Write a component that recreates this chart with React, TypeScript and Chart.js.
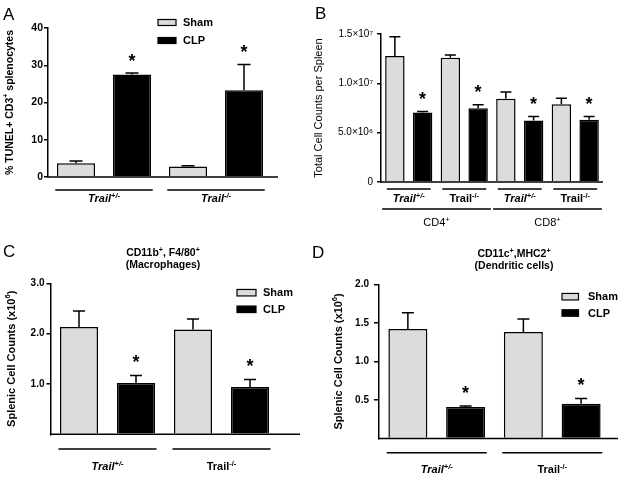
import React, { useEffect, useRef } from 'react';
import { Chart, registerables } from 'chart.js';

Chart.register(...registerables);

const FONT = "'Liberation Sans', Arial, Helvetica, sans-serif";
const SHAM_FILL = '#dcdcdc';
const CLP_FILL = '#000000';

// ---------------- data ----------------
const seriesNames = ['Sham', 'CLP'];
const genotypes = ['Trail+/-', 'Trail-/-'];

// Panel A: % TUNEL+ CD3+ splenocytes
const tunelSham = [3.7, 2.8];
const tunelShamSem = [0.6, 0.25];
const tunelClp = [27.5, 23.3];
const tunelClpSem = [0.4, 6.9];
const tunelStars = [true, true];
const tunelTickLabels = ['0', '10', '20', '30', '40'];

// Panel B: total cell counts per spleen
const countCategories = ['CD4+ Trail+/-', 'CD4+ Trail-/-', 'CD8+ Trail+/-', 'CD8+ Trail-/-'];
const countGenotypes = ['Trail+/-', 'Trail-/-', 'Trail+/-', 'Trail-/-'];
const countCellTypes = ['CD4', 'CD8'];
const countSham = [1.277e7, 1.26e7, 0.845e7, 0.789e7];
const countShamSem = [0.195e7, 0.027e7, 0.068e7, 0.06e7];
const countClp = [0.704e7, 0.748e7, 0.623e7, 0.63e7];
const countClpSem = [0.01e7, 0.034e7, 0.04e7, 0.033e7];
const countStars = [true, true, true, true];
const countTickLabels = ['0', '5.0×10⁶', '1.0×10⁷', '1.5×10⁷'];

// Panel C: macrophages (x10^6)
const macroSham = [2.13, 2.08];
const macroShamSem = [0.32, 0.21];
const macroClp = [1.02, 0.94];
const macroClpSem = [0.15, 0.15];
const macroStars = [true, true];
const macroTickLabels = ['', '1.0', '2.0', '3.0'];

// Panel D: dendritic cells (x10^6)
const dcSham = [1.42, 1.38];
const dcShamSem = [0.21, 0.17];
const dcClp = [0.41, 0.45];
const dcClpSem = [0.01, 0.07];
const dcStars = [true, true];
const dcTickLabels = ['', '0.5', '1.0', '1.5', '2.0'];

// ---------------- helpers ----------------
type Seg = { t: string; sup?: boolean };

function trailSegs(label: string): Seg[] {
  const base = label.slice(0, 5);
  const sup = label.slice(5);
  return [{ t: base }, { t: sup, sup: true }];
}

function drawRich(
  ctx: CanvasRenderingContext2D,
  segs: Seg[],
  x: number,
  y: number,
  o: { size: number; weight?: string; italic?: boolean; align?: 'left' | 'center' | 'right'; baseline?: CanvasTextBaseline }
) {
  const fontFor = (sup?: boolean) =>
    `${o.italic ? 'italic ' : ''}${o.weight || 'normal'} ${sup ? o.size * 0.68 : o.size}px ${FONT}`;
  ctx.textBaseline = o.baseline || 'alphabetic';
  ctx.textAlign = 'left';
  let total = 0;
  const widths = segs.map((s) => {
    ctx.font = fontFor(s.sup);
    const w = ctx.measureText(s.t).width;
    total += w;
    return w;
  });
  let cx = x;
  if (o.align === 'center') cx = x - total / 2;
  else if (o.align === 'right') cx = x - total;
  segs.forEach((s, i) => {
    ctx.font = fontFor(s.sup);
    ctx.fillText(s.t, cx, s.sup ? y - o.size * 0.38 : y);
    cx += widths[i];
  });
}

interface GroupSpec {
  from: number;
  to: number;
  frac: number;
  y: number;
  labelY: number;
  label: Seg[];
  italic: boolean;
  weight: string;
  size: number;
}

interface PanelSpec {
  x: number;
  y: number;
  w: number;
  h: number;
  left: number;
  top: number;
  right: number;
  bottom: number;
  letter: string;
  letterX: number;
  letterY: number;
  categories: string[];
  sham: number[];
  shamSem: number[];
  clp: number[];
  clpSem: number[];
  stars: boolean[];
  yMax: number;
  yStep: number;
  tickLabels: string[];
  tickSize: number;
  tickWeight: string;
  tickLen: number;
  tickPad: number;
  hideZeroTick: boolean;
  barPct: number;
  capW: number;
  axisExtend: number;
  yTitle: Seg[];
  yTitleX: number;
  yTitleSize: number;
  yTitleWeight: string;
  title?: { lines: Seg[][]; x: number; ys: number[]; size: number };
  legend?: { x: number; ys: number[]; boxW: number; boxH: number; textX: number; size: number };
  groups: GroupSpec[];
  starSize: number;
  starGap: number;
}

function makeGroups(labels: string[], italic: boolean[], frac: number, y: number, labelY: number): GroupSpec[] {
  return labels.map((l, i) => ({
    from: i,
    to: i,
    frac,
    y,
    labelY,
    label: trailSegs(l),
    italic: italic[i],
    weight: 'bold',
    size: 11,
  }));
}

const panels: PanelSpec[] = [
  {
    x: 0, y: 0, w: 310, h: 230,
    left: 48, top: 28, right: 272, bottom: 177,
    letter: 'A', letterX: 3, letterY: 20,
    categories: genotypes,
    sham: tunelSham, shamSem: tunelShamSem, clp: tunelClp, clpSem: tunelClpSem, stars: tunelStars,
    yMax: 40, yStep: 10, tickLabels: tunelTickLabels,
    tickSize: 10.5, tickWeight: 'bold', tickLen: 4, tickPad: 1, hideZeroTick: false,
    barPct: 0.68, capW: 13, axisExtend: 6,
    yTitle: [{ t: '% TUNEL+ CD3' }, { t: '+', sup: true }, { t: ' splenocytes' }],
    yTitleX: 10, yTitleSize: 10.5, yTitleWeight: 'bold',
    legend: { x: 158, ys: [22.5, 40.5], boxW: 18, boxH: 6, textX: 183, size: 11 },
    groups: makeGroups(genotypes, [true, true], 0.87, 190, 202),
    starSize: 18, starGap: 17,
  },
  {
    x: 310, y: 0, w: 310, h: 230,
    left: 71, top: 34, right: 293, bottom: 182,
    letter: 'B', letterX: 5, letterY: 19,
    categories: countCategories,
    sham: countSham, shamSem: countShamSem, clp: countClp, clpSem: countClpSem, stars: countStars,
    yMax: 1.5e7, yStep: 5e6, tickLabels: countTickLabels,
    tickSize: 10, tickWeight: 'normal', tickLen: 4, tickPad: 4, hideZeroTick: false,
    barPct: 0.7, capW: 11, axisExtend: 0,
    yTitle: [{ t: 'Total Cell Counts per Spleen' }],
    yTitleX: 9, yTitleSize: 11, yTitleWeight: 'normal',
    groups: [
      ...makeGroups(countGenotypes, [true, false, true, false], 0.79, 189, 202),
      ...countCellTypes.map((c, i) => ({
        from: i * 2,
        to: i * 2 + 1,
        frac: 0.98,
        y: 209,
        labelY: 226,
        label: [{ t: c }, { t: '+', sup: true }] as Seg[],
        italic: false,
        weight: 'normal',
        size: 11,
      })),
    ],
    starSize: 18, starGap: 17,
  },
  {
    x: 0, y: 230, w: 310, h: 248,
    left: 50.5, top: 53.3, right: 278.5, bottom: 204.3,
    letter: 'C', letterX: 3, letterY: 27,
    categories: genotypes,
    sham: macroSham, shamSem: macroShamSem, clp: macroClp, clpSem: macroClpSem, stars: macroStars,
    yMax: 3, yStep: 1, tickLabels: macroTickLabels,
    tickSize: 10, tickWeight: 'bold', tickLen: 4, tickPad: 2, hideZeroTick: true,
    barPct: 0.667, capW: 12, axisExtend: 21.5,
    yTitle: [{ t: 'Splenic Cell Counts (x10' }, { t: '6', sup: true }, { t: ')' }],
    yTitleX: 12, yTitleSize: 11, yTitleWeight: 'bold',
    title: {
      lines: [
        [{ t: 'CD11b' }, { t: '+', sup: true }, { t: ', F4/80' }, { t: '+', sup: true }],
        [{ t: '(Macrophages)' }],
      ],
      x: 163, ys: [26, 37.5], size: 10.5,
    },
    legend: { x: 237, ys: [62.7, 79.3], boxW: 19, boxH: 6.5, textX: 263, size: 11 },
    groups: makeGroups(genotypes, [true, false], 0.86, 219, 240),
    starSize: 18, starGap: 17.5,
  },
  {
    x: 310, y: 230, w: 310, h: 248,
    left: 69, top: 54.3, right: 300, bottom: 208.5,
    letter: 'D', letterX: 2, letterY: 28,
    categories: genotypes,
    sham: dcSham, shamSem: dcShamSem, clp: dcClp, clpSem: dcClpSem, stars: dcStars,
    yMax: 2, yStep: 0.5, tickLabels: dcTickLabels,
    tickSize: 10, tickWeight: 'bold', tickLen: 5, tickPad: 5, hideZeroTick: true,
    barPct: 0.675, capW: 12, axisExtend: 8,
    yTitle: [{ t: 'Splenic Cell Counts (x10' }, { t: '6', sup: true }, { t: ')' }],
    yTitleX: 29, yTitleSize: 11, yTitleWeight: 'bold',
    title: {
      lines: [
        [{ t: 'CD11c' }, { t: '+', sup: true }, { t: ',MHC2' }, { t: '+', sup: true }],
        [{ t: '(Dendritic cells)' }],
      ],
      x: 204, ys: [27, 38.5], size: 10.5,
    },
    legend: { x: 252, ys: [66.7, 83], boxW: 16.5, boxH: 6.5, textX: 278, size: 11 },
    groups: makeGroups(genotypes, [true, false], 0.866, 222.7, 243),
    starSize: 18, starGap: 18,
  },
];

function makeDecor(p: PanelSpec) {
  return {
    id: 'decor' + p.letter,
    afterDatasetsDraw(chart: any) {
      const ctx: CanvasRenderingContext2D = chart.ctx;
      const area = chart.chartArea;
      const yScale = chart.scales.y;
      const xScale = chart.scales.x;
      ctx.save();
      ctx.fillStyle = '#000';
      ctx.strokeStyle = '#000';

      // error bars + stars
      const sems = [p.shamSem, p.clpSem];
      const vals = [p.sham, p.clp];
      [0, 1].forEach((di) => {
        const meta = chart.getDatasetMeta(di);
        meta.data.forEach((el: any, j: number) => {
          const top = yScale.getPixelForValue(vals[di][j] + sems[di][j]);
          ctx.lineWidth = 1.5;
          ctx.beginPath();
          ctx.moveTo(el.x, el.y);
          ctx.lineTo(el.x, top);
          ctx.moveTo(el.x - p.capW / 2, top);
          ctx.lineTo(el.x + p.capW / 2, top);
          ctx.stroke();
          if (di === 1 && p.stars[j]) {
            ctx.font = `bold ${p.starSize}px ${FONT}`;
            ctx.textAlign = 'center';
            ctx.textBaseline = 'alphabetic';
            ctx.fillText('*', el.x, top - p.starGap + p.starSize * 0.58);
          }
        });
      });

      // x axis line
      ctx.lineWidth = 1.5;
      ctx.beginPath();
      ctx.moveTo(area.left - 0.75, area.bottom);
      ctx.lineTo(area.right + p.axisExtend, area.bottom);
      ctx.stroke();

      // group lines and labels
      const catW = (area.right - area.left) / p.categories.length;
      p.groups.forEach((g) => {
        const c0 = xScale.getPixelForValue(g.from);
        const c1 = xScale.getPixelForValue(g.to);
        const cx = (c0 + c1) / 2;
        const len = catW * (g.to - g.from + 1) * g.frac;
        ctx.lineWidth = 1.5;
        ctx.beginPath();
        ctx.moveTo(cx - len / 2, g.y);
        ctx.lineTo(cx + len / 2, g.y);
        ctx.stroke();
        drawRich(ctx, g.label, cx, g.labelY, { size: g.size, weight: g.weight, italic: g.italic, align: 'center' });
      });

      // y-axis title
      const midY = (area.top + area.bottom) / 2;
      ctx.save();
      ctx.translate(p.yTitleX, midY);
      ctx.rotate(-Math.PI / 2);
      drawRich(ctx, p.yTitle, 0, 0, { size: p.yTitleSize, weight: p.yTitleWeight, align: 'center', baseline: 'middle' });
      ctx.restore();

      // panel letter
      ctx.font = `normal 17px ${FONT}`;
      ctx.textAlign = 'left';
      ctx.textBaseline = 'alphabetic';
      ctx.fillText(p.letter, p.letterX, p.letterY);

      // title
      if (p.title) {
        p.title.lines.forEach((line, i) => {
          drawRich(ctx, line, p.title!.x, p.title!.ys[i], { size: p.title!.size, weight: 'bold', align: 'center' });
        });
      }

      // legend
      if (p.legend) {
        const L = p.legend;
        const fills = [SHAM_FILL, CLP_FILL];
        seriesNames.forEach((name, i) => {
          const cy = L.ys[i];
          ctx.fillStyle = fills[i];
          ctx.fillRect(L.x, cy - L.boxH / 2, L.boxW, L.boxH);
          ctx.lineWidth = 1.2;
          ctx.strokeStyle = '#000';
          ctx.strokeRect(L.x, cy - L.boxH / 2, L.boxW, L.boxH);
          ctx.fillStyle = '#000';
          ctx.font = `bold ${L.size}px ${FONT}`;
          ctx.textAlign = 'left';
          ctx.textBaseline = 'middle';
          ctx.fillText(name, L.textX, cy + 0.5);
        });
      }
      ctx.restore();
    },
  };
}

function buildConfig(p: PanelSpec): any {
  return {
    type: 'bar',
    data: {
      labels: p.categories,
      datasets: [
        {
          label: seriesNames[0],
          data: p.sham,
          backgroundColor: SHAM_FILL,
          borderColor: '#000',
          borderWidth: 1.5,
          categoryPercentage: 1,
          barPercentage: p.barPct,
        },
        {
          label: seriesNames[1],
          data: p.clp,
          backgroundColor: CLP_FILL,
          borderColor: '#000',
          borderWidth: 1.5,
          categoryPercentage: 1,
          barPercentage: p.barPct,
        },
      ],
    },
    options: {
      responsive: false,
      animation: false,
      devicePixelRatio: 1,
      layout: {
        padding: { left: 0, top: p.top, right: p.w - p.right, bottom: p.h - p.bottom },
      },
      plugins: {
        legend: { display: false },
        title: { display: false },
        tooltip: { enabled: false },
      },
      scales: {
        x: {
          display: false,
          offset: true,
        },
        y: {
          min: 0,
          max: p.yMax,
          afterFit: (s: any) => {
            s.width = p.left;
          },
          ticks: {
            stepSize: p.yStep,
            autoSkip: false,
            color: '#000',
            padding: p.tickPad,
            font: { family: FONT, size: p.tickSize, weight: p.tickWeight },
            callback: (_v: any, i: number) => p.tickLabels[i] ?? '',
          },
          grid: {
            display: true,
            drawOnChartArea: false,
            drawTicks: true,
            tickLength: p.tickLen,
            lineWidth: 1.5,
            color: (c: any) => (p.hideZeroTick && c.tick && c.tick.value === 0 ? 'rgba(0,0,0,0)' : '#000'),
          },
          border: { display: true, color: '#000', width: 1.5 },
        },
      },
    },
    plugins: [makeDecor(p)],
  };
}

function Panel({ spec }: { spec: PanelSpec }) {
  const ref = useRef<HTMLCanvasElement | null>(null);
  useEffect(() => {
    if (!ref.current) return;
    const chart = new Chart(ref.current, buildConfig(spec));
    return () => chart.destroy();
  }, [spec]);
  return (
    <canvas
      ref={ref}
      width={spec.w}
      height={spec.h}
      style={{ position: 'absolute', left: spec.x, top: spec.y, width: spec.w, height: spec.h }}
    />
  );
}

export default function App() {
  return (
    <div style={{ position: 'absolute', left: 0, top: 0, width: 620, height: 478, background: '#fff' }}>
      {panels.map((p) => (
        <Panel key={p.letter} spec={p} />
      ))}
    </div>
  );
}
